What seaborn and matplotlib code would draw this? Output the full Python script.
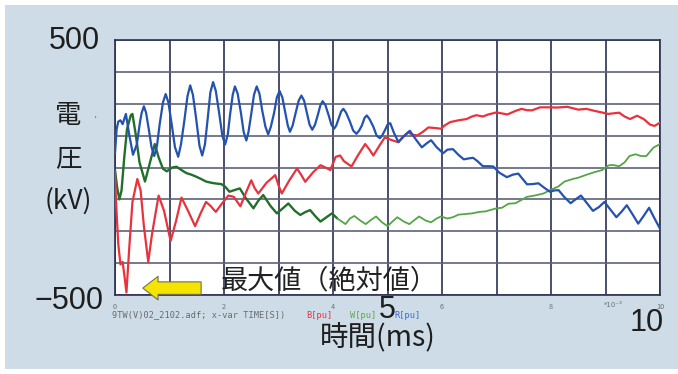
import numpy as np
import pandas as pd
import seaborn as sns
import matplotlib
matplotlib.use("Agg")
import matplotlib.pyplot as plt
from matplotlib.patches import Rectangle

# ---- waveform samples (time in ms, voltage in kV) ----
blue_t = [0, 0.03, 0.06, 0.1, 0.14, 0.2, 0.26, 0.33, 0.4, 0.46, 0.49, 0.53, 0.57, 0.62, 0.67,
          0.72, 0.77, 0.82, 0.88, 0.93, 0.98, 1.04, 1.1, 1.16, 1.21, 1.27, 1.33, 1.38, 1.43, 1.49,
          1.55, 1.6, 1.65, 1.7, 1.75, 1.8, 1.85, 1.91, 1.97, 2.02, 2.07, 2.11, 2.16, 2.2, 2.25,
          2.31, 2.36, 2.41, 2.45, 2.5, 2.55, 2.6, 2.65, 2.7, 2.76, 2.81, 2.86, 2.92, 2.97, 3.02,
          3.07, 3.12, 3.17, 3.21, 3.26, 3.31, 3.37, 3.42, 3.47, 3.52, 3.57, 3.62, 3.67, 3.72, 3.77,
          3.81, 3.86, 3.92, 3.97, 4.02, 4.06, 4.1, 4.15, 4.19, 4.24, 4.31, 4.37, 4.43, 4.48, 4.53,
          4.58, 4.62, 4.67, 4.74, 4.8, 4.86, 4.9, 4.95, 5.0, 5.05, 5.12, 5.2, 5.3, 5.41, 5.52,
          5.63, 5.72, 5.8, 5.9, 6.02, 6.1, 6.2, 6.3, 6.4, 6.5, 6.57, 6.65, 6.75, 6.85, 6.94,
          7.05, 7.19, 7.3, 7.4, 7.48, 7.56, 7.66, 7.77, 7.88, 7.98, 8.06, 8.14, 8.24, 8.36, 8.45,
          8.55, 8.66, 8.77, 8.88, 8.98, 9.09, 9.2, 9.3, 9.39, 9.5, 9.6, 9.7, 9.8, 9.9, 10.0]
blue_kv = [55, 150, 180, 185, 170, 210, 130, 50, 90, 180, 215, 240, 215, 150, 80,
           45, 85, 170, 255, 288, 255, 170, 80, 42, 90, 180, 280, 322, 285, 190,
           85, 47, 90, 190, 295, 335, 300, 215, 125, 90, 130, 205, 285, 318, 290,
           215, 140, 106, 140, 210, 285, 318, 290, 225, 160, 130, 160, 215, 275, 300,
           275, 220, 165, 140, 165, 210, 262, 282, 262, 215, 168, 148, 168, 205, 245,
           260, 245, 205, 168, 152, 165, 190, 220, 230, 215, 180, 145, 132, 145, 165,
           195, 204, 190, 160, 125, 115, 125, 145, 168, 174, 135, 100, 122, 144, 110,
           79, 95, 107, 80, 56, 70, 72, 50, 32, 36, 38, 25, 5, 5, 4,
           -20, -38, -28, -24, -45, -66, -65, -62, -80, -95, -90, -89, -115, -140, -125,
           -110, -140, -170, -155, -135, -165, -195, -172, -148, -185, -220, -190, -158, -200, -240]

red_t = [0, 0.02, 0.06, 0.1, 0.14, 0.17, 0.21, 0.26, 0.32, 0.41, 0.47, 0.53, 0.61, 0.68, 0.8,
         0.9, 1.02, 1.12, 1.22, 1.34, 1.47, 1.57, 1.67, 1.75, 1.85, 1.95, 2.08, 2.18, 2.3, 2.4,
         2.5, 2.56, 2.63, 2.78, 2.94, 3.0, 3.06, 3.2, 3.34, 3.42, 3.49, 3.63, 3.77, 3.86, 3.95,
         4.05, 4.13, 4.2, 4.34, 4.45, 4.59, 4.67, 4.74, 4.85, 4.95, 5.07, 5.2, 5.28, 5.38, 5.46,
         5.55, 5.65, 5.75, 5.87, 5.98, 6.05, 6.15, 6.3, 6.45, 6.55, 6.63, 6.75, 6.85, 7.0, 7.1,
         7.2, 7.35, 7.46, 7.55, 7.65, 7.8, 7.98, 8.1, 8.3, 8.5, 8.65, 8.8, 8.95, 9.05, 9.25,
         9.35, 9.45, 9.58, 9.7, 9.82, 9.9, 10.0]
red_kv = [-15, -140, -300, -380, -370, -420, -490, -320, -135, -45, -90, -230, -370, -260, -110,
          -170, -288, -210, -118, -170, -230, -180, -135, -150, -174, -145, -110, -115, -152, -100,
          -50, -80, -102, -60, -30, -70, -102, -50, -4, -30, -56, -20, 9, 0, -10,
          42, 47, 25, 4, 45, 92, 70, 47, 85, 118, 108, 99, 120, 138, 128,
          126, 140, 157, 155, 152, 165, 178, 185, 190, 200, 205, 200, 208, 216, 212,
          208, 222, 230, 225, 224, 236, 236, 235, 238, 227, 230, 222, 215, 210, 215,
          200, 190, 203, 190, 168, 163, 176]

green_t = [0, 0.04, 0.08, 0.12, 0.17, 0.22, 0.29, 0.32, 0.38, 0.45, 0.55, 0.63, 0.73, 0.8, 0.88,
           0.95, 1.05, 1.13, 1.22, 1.31, 1.4, 1.49, 1.58, 1.67, 1.77, 1.86, 1.95, 2.02, 2.1, 2.2,
           2.29, 2.4, 2.54, 2.63, 2.72, 2.85, 2.97, 3.08, 3.18, 3.3, 3.4, 3.49, 3.58, 3.68, 3.77,
           3.88, 3.98, 4.08, 4.23, 4.31, 4.39, 4.5, 4.6, 4.7, 4.79, 4.9, 5.0, 5.1, 5.18, 5.3,
           5.4, 5.5, 5.58, 5.7, 5.8, 5.9, 5.98, 6.1, 6.2, 6.3, 6.45, 6.55, 6.69, 6.8, 7.0,
           7.1, 7.22, 7.35, 7.45, 7.56, 7.7, 7.86, 7.98, 8.13, 8.25, 8.4, 8.5, 8.63, 8.8, 8.94,
           9.05, 9.13, 9.25, 9.35, 9.44, 9.55, 9.65, 9.75, 9.88, 10.0]
green_kv = [-10, -80, -125, -90, 40, 150, 205, 210, 130, 20, -55, 10, 92, 40, -5,
            -15, 0, 3, -10, -22, -28, -36, -45, -55, -60, -63, -65, -75, -95, -88,
            -82, -120, -160, -130, -108, -150, -180, -160, -141, -170, -186, -175, -167, -192, -212,
            -195, -180, -200, -222, -200, -190, -208, -222, -205, -192, -215, -230, -210, -195, -212,
            -222, -205, -192, -208, -215, -200, -192, -200, -195, -185, -182, -180, -174, -172, -160,
            -158, -142, -140, -128, -115, -110, -102, -89, -75, -55, -45, -40, -30, -18, -10,
            8, 10, 5, 20, 45, 52, 45, 45, 78, 92]

series_names = ["B", "W", "R"]
series_colors = {"B": "#e8323c", "W": "#226f2c", "R": "#2452b0"}
green_late_color = "#55a548"
green_split_ms = 4.08

x_ticks = [0, 1, 2, 3, 4, 5, 6, 7, 8, 9, 10]
x_ticklabels = ["0", "", "2", "", "4", "", "6", "", "8", "", "10"]
y_ticks = [-500, -375, -250, -125, 0, 125, 250, 375, 500]
y_end_labels = {500: "500", -500: "\u2212500"}

frames = [
    pd.DataFrame({"time": red_t, "kv": red_kv, "phase": "B"}),
    pd.DataFrame({"time": green_t, "kv": green_kv, "phase": "W"}),
    pd.DataFrame({"time": blue_t, "kv": blue_kv, "phase": "R"}),
]
df = pd.concat(frames, ignore_index=True)
# the W trace is drawn in a darker shade for its early, noisy part
w_all = df[df["phase"] == "W"]
w_early = w_all[w_all["time"] <= green_split_ms]
w_late = w_all[w_all["time"] >= green_split_ms]
others = df[df["phase"] != "W"]

sns.set_style("white")
plt.rcParams["font.family"] = ["Noto Sans CJK JP", "DejaVu Sans"]

W, H = 678, 374
fig = plt.figure(figsize=(W / 100, H / 100), dpi=100, facecolor="white")
fig.patches.append(Rectangle((5 / W, 5 / H), 1, 1 - 10 / H, transform=fig.transFigure,
                             facecolor="#cddce6", edgecolor="none", zorder=-10))

ax = fig.add_axes([115 / W, 1 - 295 / H, 545 / W, 255 / H])
ax.set_facecolor("white")

sns.lineplot(data=w_early, x="time", y="kv", color=series_colors["W"], estimator=None,
             sort=False, linewidth=1.7, ax=ax, zorder=3)
sns.lineplot(data=w_late, x="time", y="kv", color=green_late_color, estimator=None,
             sort=False, linewidth=1.3, ax=ax, zorder=3)
sns.lineplot(data=others, x="time", y="kv", hue="phase", hue_order=["B", "R"],
             palette=series_colors, estimator=None, sort=False, linewidth=1.6,
             legend=False, ax=ax, zorder=4)

ax.set_xlim(0, 10)
ax.set_ylim(-500, 500)
ax.set_xticks(x_ticks)
ax.set_xticklabels(x_ticklabels)
ax.set_yticks(y_ticks)
ax.set_yticklabels([""] * len(y_ticks))

for xv in x_ticks:
    ax.axvline(xv, color="#2b3150", lw=1.2, zorder=1)
for yv in y_ticks:
    ax.axhline(yv, color="#5c6379", lw=1.2, zorder=1)
for s in ax.spines.values():
    s.set_color("#2b3150")
    s.set_linewidth(1.2)

ax.tick_params(axis="x", length=5, width=1.1, color="#2b3150", pad=0.5,
               labelsize=5.2, labelcolor="#707070")
ax.tick_params(axis="y", length=6, width=1.1, color="#5c6379")

# end values of the voltage axis
num_font = ["Liberation Sans", "DejaVu Sans"]
ax.text(-0.028, 0.996, y_end_labels[500], transform=ax.transAxes, fontsize=22,
        ha="right", va="center", color="#1e1e1e", family=num_font)
ax.text(-0.022, -0.024, y_end_labels[-500], transform=ax.transAxes, fontsize=22,
        ha="right", va="center", color="#1e1e1e", family=num_font)

# axis titles
ax.set_ylabel("電\n圧\n(kV)", rotation=0, fontsize=19, linespacing=1.75,
              color="#1e1e1e", ha="center", va="center")
ax.yaxis.set_label_coords(-0.086, 0.535)
fig.text(96 / W, 1 - 118 / H, "·", color="#d04050", fontsize=7, ha="center", va="center")

ax.set_xlabel("時間(ms)", fontsize=20.5, color="#1e1e1e", va="center")
ax.xaxis.set_label_coords(0.483, -0.17)

# large axis numbers
ax.text(0.499, -0.058, "5", transform=ax.transAxes, fontsize=22, ha="center", va="center",
        color="#1e1e1e", family=num_font)
ax.text(0.976, -0.108, "10", transform=ax.transAxes, fontsize=22, ha="center", va="center",
        color="#1e1e1e", family=num_font)
ax.text(0.915, -0.038, "*10\u207b\u00b3", transform=ax.transAxes, fontsize=5,
        ha="center", va="center", color="#707070", family="DejaVu Sans")

# source line under the axis
src_y = 1 - 315 / H
mono = "DejaVu Sans Mono"
fig.text(112 / W, src_y, "9TW(V)02_2102.adf; x-var TIME[S])", fontsize=6.2,
         family=mono, color="#6a6a6a", va="center")
fig.text(306 / W, src_y, "B[pu]", fontsize=6.2, family=mono,
         color=series_colors["B"], va="center")
fig.text(350 / W, src_y, "W[pu]", fontsize=6.2, family=mono,
         color="#5aa84a", va="center")
fig.text(394 / W, src_y, "R[pu]", fontsize=6.2, family=mono,
         color="#3a6ad0", va="center")

# peak marker annotation
ax.annotate("", xy=(0.051, 0.027), xytext=(0.158, 0.027), xycoords="axes fraction",
            textcoords="axes fraction",
            arrowprops=dict(arrowstyle="simple,head_length=11,head_width=17,tail_width=9",
                            mutation_scale=1, fc="#f5e400", ec="#707060", lw=0.8,
                            shrinkA=0, shrinkB=0), zorder=6)
ax.text(0.193, 0.055, "最大値（絶対値）", transform=ax.transAxes, fontsize=19.5,
        color="#222222", ha="left", va="center", zorder=6)

fig.savefig("out.png", dpi=100, facecolor=fig.get_facecolor())
